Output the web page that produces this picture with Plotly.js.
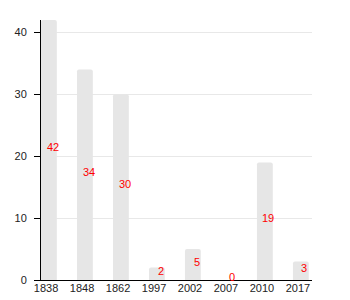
<!DOCTYPE html>
<html>
<head>
<meta charset="utf-8">
<script src="https://cdn.plot.ly/plotly-3.0.1.min.js"></script>
<style>html,body{margin:0;padding:0;background:#fff;}#chart{width:350px;height:300px;}</style>
</head>
<body>
<div id="chart"></div>
<script>
const years = ["1838", "1848", "1862", "1997", "2002", "2007", "2010", "2017"];
const counts = [42, 34, 30, 2, 5, 0, 19, 3];

const trace = {
  type: "bar",
  x: years,
  y: counts,
  width: 0.44,
  offset: -0.14,
  marker: {color: "#e6e6e6", cornerradius: 2},
  hoverinfo: "x+y"
};

const annotations = years.map((yr, i) => ({
  x: i,
  y: counts[i] / 2,
  xref: "x",
  yref: "y",
  text: String(counts[i]),
  showarrow: false,
  xshift: 6.5,
  yshift: 3,
  font: {family: "Liberation Sans, Arial, sans-serif", size: 11, color: "#ff0000"}
}));

const layout = {
  width: 350,
  height: 300,
  margin: {l: 41, r: 38, t: 20, b: 20, pad: 0},
  paper_bgcolor: "#ffffff",
  plot_bgcolor: "#ffffff",
  showlegend: false,
  font: {family: "Liberation Sans, Arial, sans-serif", size: 11, color: "#222"},
  xaxis: {
    type: "category",
    range: [-0.14, 7.39],
    showline: true,
    linecolor: "#000",
    linewidth: 1,
    ticks: "",
    ticklabelstandoff: -2,
    showgrid: false,
    zeroline: false,
    tickfont: {size: 11, color: "#222"}
  },
  yaxis: {
    range: [0, 42],
    tickvals: [0, 10, 20, 30, 40],
    showline: true,
    linecolor: "#000",
    linewidth: 1,
    ticks: "outside",
    ticklen: 6,
    tickcolor: "#000",
    ticklabelstandoff: 5,
    showgrid: true,
    gridcolor: "#e8e8e8",
    gridwidth: 1,
    zeroline: false,
    tickfont: {size: 11, color: "#222"}
  },
  annotations: annotations
};

Plotly.newPlot("chart", [trace], layout, {displayModeBar: false, staticPlot: true});
</script>
</body>
</html>
